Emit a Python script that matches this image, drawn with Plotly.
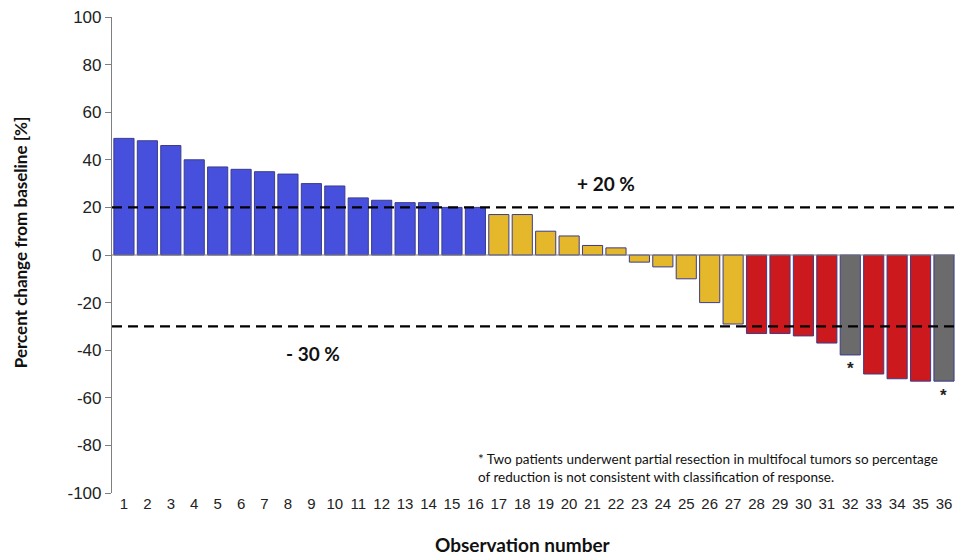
import plotly.graph_objects as go

# Observation numbers and percent change from baseline
observations = list(range(1, 37))
pct_change = [49, 48, 46, 40, 37, 36, 35, 34, 30, 29, 24, 23, 22, 22, 20, 20,
              17, 17, 10, 8, 4, 3, -3, -5, -10, -20, -29,
              -33, -33, -34, -37, -42, -50, -52, -53, -53]
# Response group per observation
groups = (["progression"] * 16 + ["stable"] * 11 +
          ["partial", "partial", "partial", "partial", "resection",
           "partial", "partial", "partial", "resection"])
group_colors = {
    "progression": "#4650DC",
    "stable": "#E4B82A",
    "partial": "#CC191E",
    "resection": "#6B6B6B",
}
starred = [32, 36]
thresholds = [20, -30]
threshold_labels = ["+ 20 %", "- 30 %"]
y_ticks = list(range(-100, 101, 20))
y_tick_text = [str(v) for v in y_ticks]
footnote = ("* Two patients underwent partial resection in multifocal tumors so percentage<br>"
            "of reduction is not consistent with classification of response.")

bar_colors = [group_colors[g] for g in groups]

fig = go.Figure()
fig.add_trace(go.Bar(
    x=observations, y=pct_change,
    marker=dict(color=bar_colors, line=dict(color="#3C3C8C", width=1)),
    width=0.86, showlegend=False,
))

# Zero baseline
fig.add_shape(type="line", xref="paper", x0=0, x1=1, yref="y", y0=0, y1=0,
              line=dict(color="#7F7F7F", width=1.2))

# Response thresholds
for t in thresholds:
    fig.add_shape(type="line", xref="paper", x0=0, x1=1, yref="y", y0=t, y1=t,
                  line=dict(color="black", width=2.4, dash="10px,6px"))

fig.add_annotation(x=21.57, y=20, yshift=24, text="<b>" + threshold_labels[0] + "</b>",
                   showarrow=False, font=dict(family="Lato", size=19, color="#111"))
fig.add_annotation(x=9.07, y=-30, yshift=-27, text="<b>" + threshold_labels[1] + "</b>",
                   showarrow=False, font=dict(family="Lato", size=19, color="#111"))

# Asterisks below the resected cases
for obs in starred:
    fig.add_annotation(x=obs, y=pct_change[obs - 1], yshift=-14, text="<b>*</b>",
                       showarrow=False, font=dict(family="Liberation Sans", size=17, color="#222"))

fig.add_annotation(xref="paper", yref="paper", x=0.432, y=0.0525, xanchor="left",
                   yanchor="middle", align="left", text=footnote, showarrow=False,
                   font=dict(family="Lato", size=13.5, color="#111"))

# Axis titles
fig.add_annotation(xref="paper", yref="paper", x=-0.109, y=0.525, xanchor="center",
                   yanchor="middle", textangle=-90,
                   text="<b>Percent change from baseline [%]</b>", showarrow=False,
                   font=dict(family="Lato", size=17, color="#111"))
fig.add_annotation(xref="paper", yref="paper", x=0.4875, y=-0.108, xanchor="center",
                   yanchor="middle",
                   text="<b>Observation number</b>", showarrow=False,
                   font=dict(family="Lato", size=19, color="#111"))

fig.update_layout(
    width=955, height=555,
    margin=dict(l=112, r=0, t=17, b=62),
    plot_bgcolor="white", paper_bgcolor="white",
    xaxis=dict(range=[0.49, 36.47], tickmode="array", tickvals=observations,
               ticktext=[str(o) for o in observations], showline=False,
               showgrid=False, zeroline=False, ticks="",
               tickfont=dict(family="Liberation Sans", size=15, color="#222")),
    yaxis=dict(range=[-100, 100], tickmode="array", tickvals=y_ticks,
               ticktext=y_tick_text,
               showline=True, linecolor="#7F7F7F", linewidth=1.2,
               ticks="outside", ticklen=6, tickcolor="#7F7F7F",
               showgrid=False, zeroline=False,
               tickfont=dict(family="Liberation Sans", size=17, color="#222")),
)

fig.write_html("out.html")
